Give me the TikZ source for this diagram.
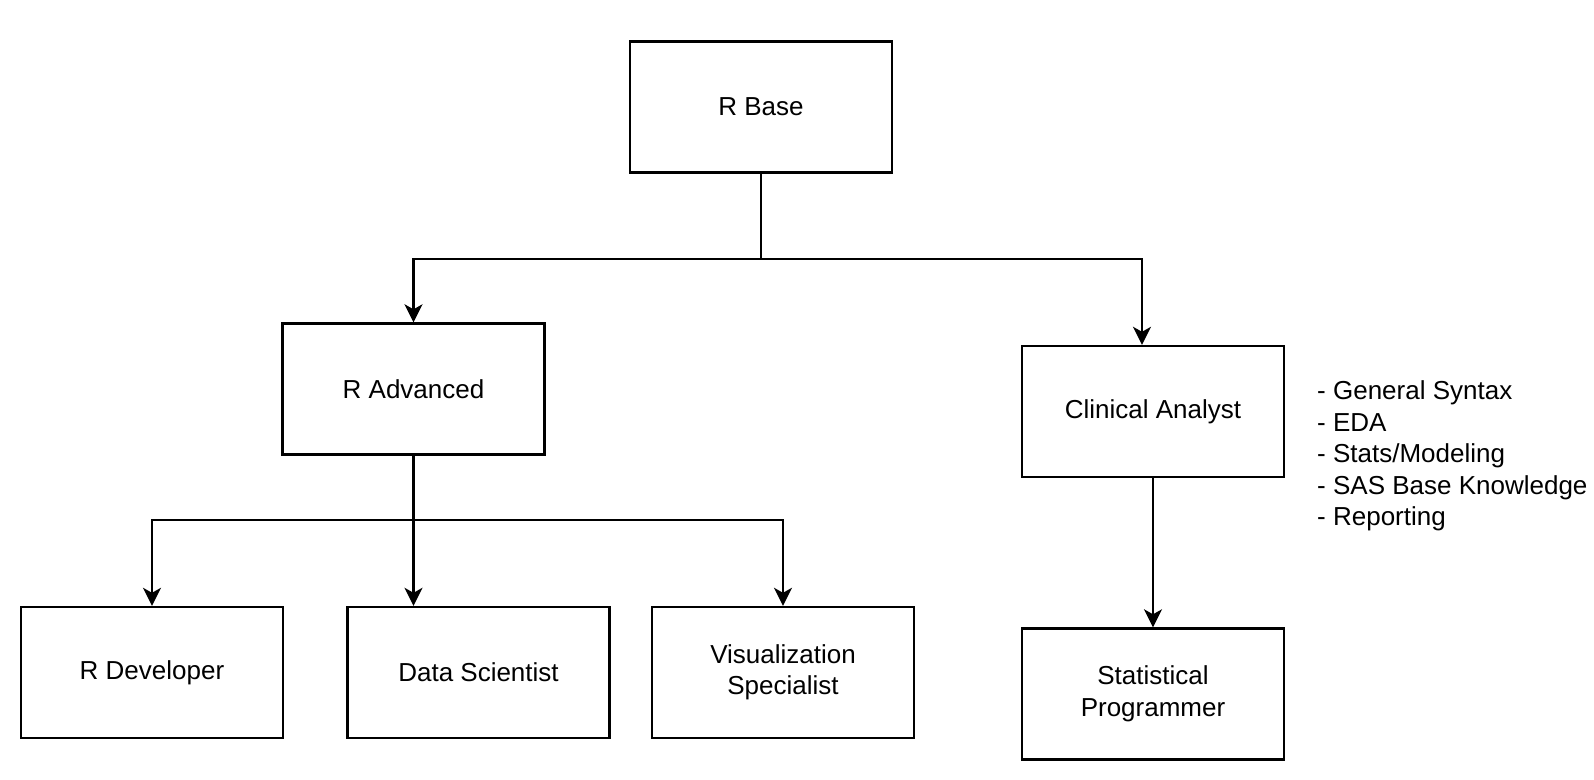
\documentclass[tikz,border=0pt]{standalone}
\usepackage{fontspec}
\setmainfont{Liberation Sans}
\usetikzlibrary{arrows.meta}
\tikzset{
  box/.style={draw=black, line width=2.4pt, rectangle, minimum width=262pt, minimum height=131pt, align=center, inner sep=0pt, font=\fontsize{26}{31.5}\selectfont},
  conn/.style={draw=black, line width=2.3pt},
  arr/.style={conn, -{Stealth[length=18pt, width=18pt, inset=5pt]}},
  note/.style={align=left, inner sep=0pt, anchor=west, font=\fontsize{26}{31.5}\selectfont}
}
\begin{document}
\begin{tikzpicture}[x=1pt, y=-1pt]
\useasboundingbox (0,0) rectangle (1594,779);
\node[box] (rbase) at (761,107) {R Base};
\node[box] (radv) at (413.5,389) {R Advanced};
\node[box] (clin) at (1153,411.5) {Clinical Analyst};
\node[box] (rdev) at (152,672.5) {R Developer};
\node[box] (dsci) at (478.5,672.5) {Data Scientist};
\node[box] (vis) at (783,672.5) {Visualization\\Specialist};
\node[box] (stat) at (1153,694) {Statistical\\Programmer};
\node[note] (skills) at (1317,456) {- General Syntax\\- EDA\\- Stats/Modeling\\- SAS Base Knowledge\\- Reporting};
\coordinate (j1) at (761,259);
\coordinate (j2) at (413.5,520);
\draw[conn] (rbase.south) -- (j1);
\draw[arr] (j1) -| (radv.north);
\draw[arr] (j1) -| ([xshift=-11pt]clin.north);
\draw[conn] (radv.south) -- (j2);
\draw[arr] (j2) -| (rdev.north);
\draw[arr] (j2) -- ([xshift=-65pt]dsci.north);
\draw[arr] (j2) -| (vis.north);
\draw[arr] (clin.south) -- (stat.north);
\end{tikzpicture}
\end{document}
